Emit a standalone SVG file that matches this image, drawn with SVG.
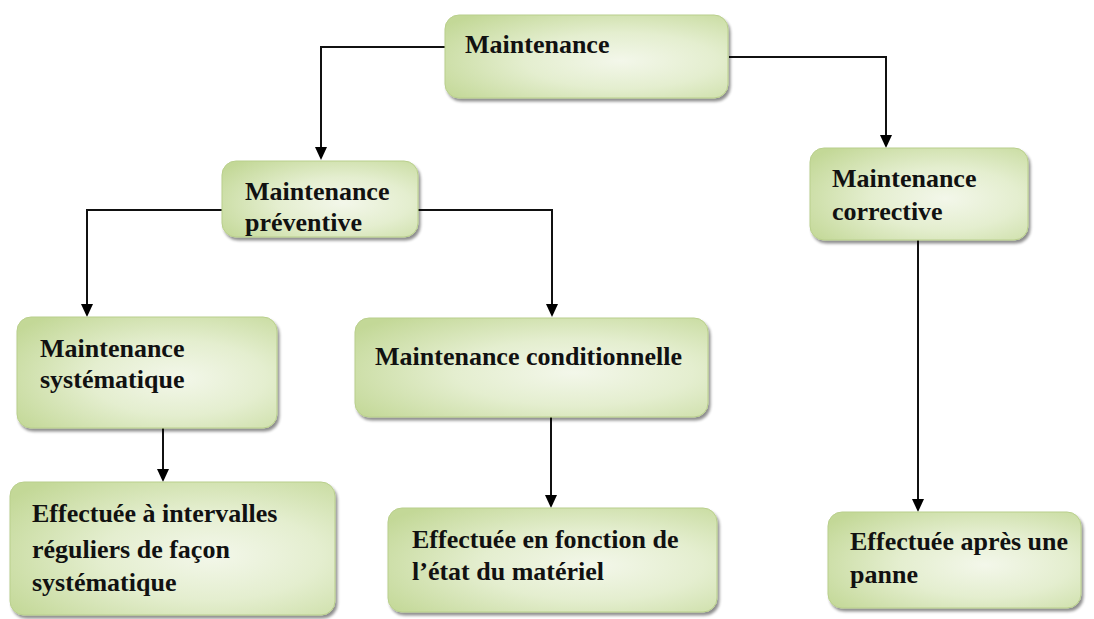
<svg xmlns="http://www.w3.org/2000/svg" width="1094" height="619" viewBox="0 0 1094 619">
<defs>
<radialGradient id="g" cx="0.62" cy="0.55" r="0.75">
<stop offset="0" stop-color="#f3f7ea"/>
<stop offset="0.45" stop-color="#e4eecf"/>
<stop offset="1" stop-color="#c3d897"/>
</radialGradient>
<filter id="sh" x="-10%" y="-10%" width="125%" height="130%">
<feGaussianBlur in="SourceAlpha" stdDeviation="1.5"/>
<feOffset dx="2" dy="3" result="b"/>
<feComponentTransfer><feFuncA type="linear" slope="0.45"/></feComponentTransfer>
<feMerge><feMergeNode/><feMergeNode in="SourceGraphic"/></feMerge>
</filter>
</defs>
<style>
.box{fill:url(#g);stroke:#b9cf8c;stroke-width:1;filter:url(#sh)}
.t{font-family:"Liberation Serif","Times New Roman",serif;font-weight:bold;font-size:26px;fill:#111}
.c{fill:none;stroke:#111;stroke-width:2}
.h{fill:#000}
</style>
<rect width="1094" height="619" fill="#fff"/>
<g id="connectors">
<path class="c" d="M445,47 H321 V150"/>
<path class="h" d="M315,147 L327,147 L321,160 z"/>
<path class="c" d="M729,57 H886 V138"/>
<path class="h" d="M880,135 L892,135 L886,148 z"/>
<path class="c" d="M222,210 H87 V305"/>
<path class="h" d="M81,304 L93,304 L87,317 z"/>
<path class="c" d="M418,210 H552 V305"/>
<path class="h" d="M546,304 L558,304 L552,317 z"/>
<path class="c" d="M163,428 V470"/>
<path class="h" d="M157,469 L169,469 L163,482 z"/>
<path class="c" d="M551,417 V496"/>
<path class="h" d="M545,495 L557,495 L551,508 z"/>
<path class="c" d="M918,240 V500"/>
<path class="h" d="M912,499 L924,499 L918,512 z"/>
</g>
<g id="n-maintenance">
<rect class="box" x="445" y="15" width="283" height="83" rx="14"/>
<text class="t" x="465" y="53">Maintenance</text>
</g>
<g id="n-preventive">
<rect class="box" x="222" y="161" width="196" height="76" rx="14"/>
<text class="t" x="245" y="200">Maintenance</text>
<text class="t" x="245" y="231">préventive</text>
</g>
<g id="n-corrective">
<rect class="box" x="810" y="148" width="218" height="92" rx="14"/>
<text class="t" x="832" y="187">Maintenance</text>
<text class="t" x="832" y="220">corrective</text>
</g>
<g id="n-systematique">
<rect class="box" x="17" y="317" width="260" height="111" rx="14"/>
<text class="t" x="40" y="357">Maintenance</text>
<text class="t" x="40" y="388">systématique</text>
</g>
<g id="n-conditionnelle">
<rect class="box" x="355" y="318" width="353" height="99" rx="14"/>
<text class="t" x="375" y="365">Maintenance conditionnelle</text>
</g>
<g id="n-intervalles">
<rect class="box" x="10" y="482" width="325" height="133" rx="14"/>
<text class="t" x="32" y="522">Effectuée à intervalles</text>
<text class="t" x="32" y="558">réguliers de façon</text>
<text class="t" x="32" y="591">systématique</text>
</g>
<g id="n-fonction">
<rect class="box" x="388" y="508" width="329" height="104" rx="14"/>
<text class="t" x="412" y="548">Effectuée en fonction de</text>
<text class="t" x="412" y="580">l’état du matériel</text>
</g>
<g id="n-panne">
<rect class="box" x="828" y="512" width="253" height="96" rx="14"/>
<text class="t" x="850" y="550">Effectuée après une</text>
<text class="t" x="850" y="583">panne</text>
</g>
</svg>
